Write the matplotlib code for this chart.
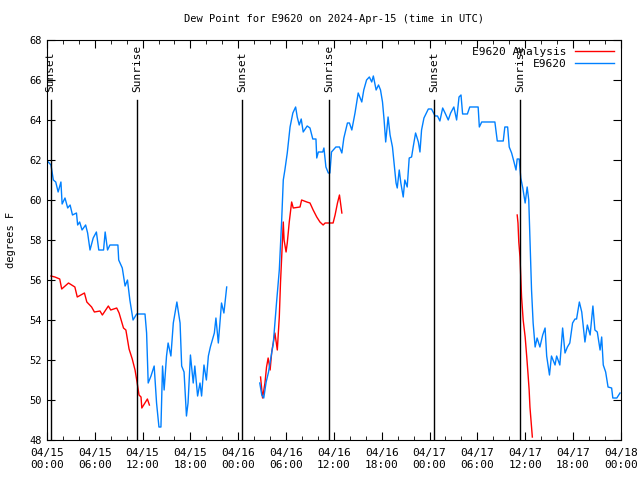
import matplotlib
matplotlib.use("Agg")
import matplotlib.pyplot as plt
import numpy as np

# hours since 2024-04-15 00:00 UTC, dew point in deg F
obs_hours = [0.16, 0.5, 0.8, 1.1, 1.4, 1.75, 1.9, 2.26, 2.6, 2.9, 3.2, 3.7, 3.85, 4.1, 4.4, 4.85,
             5.1, 5.4, 5.8, 6.2, 6.5, 7.1, 7.3, 7.6, 7.9, 8.9, 9.0, 9.45, 9.8, 10.1, 10.4, 10.8,
             11.25, 12.3, 12.5, 12.7, 13.05, 13.45, 13.75, 14.05, 14.3, 14.5, 14.7, 15.0, 15.2,
             15.55, 15.85, 16.3, 16.7, 16.9, 17.2, 17.5, 17.7, 18.0, 18.35, 18.55, 18.9, 19.2,
             19.4, 19.7, 20.0, 20.25, 20.5, 21.0, 21.2, 21.5, 21.9, 22.2, 22.55,
             22.6,
             26.7, 26.95, 27.2, 27.5, 27.8, 28.05, 28.4, 28.6, 28.8, 29.15, 29.45, 29.65, 29.85,
             30.15, 30.5, 30.85, 31.2, 31.4, 31.65, 31.9, 32.15, 32.65, 33.0, 33.35, 33.75, 33.85,
             34.05, 34.6, 34.75, 35.0, 35.3, 35.5, 35.7, 36.25, 36.7, 37.0, 37.25, 37.7, 37.95,
             38.25, 38.65, 39.05, 39.5, 39.75, 40.1, 40.45, 40.75, 40.95, 41.3, 41.6, 41.85, 42.1,
             42.3, 42.5, 42.8, 43.05, 43.35, 43.55, 43.8, 43.95, 44.2, 44.4, 44.7, 44.9, 45.2,
             45.45, 45.75, 45.95, 46.25, 46.6, 46.8, 47.0, 47.3, 47.6, 47.85, 48.25, 48.7, 49.0,
             49.3, 49.65, 49.95, 50.35, 50.65, 51.05, 51.4, 51.7, 51.95, 52.15, 52.75, 53.05,
             54.1, 54.25, 54.55, 56.2, 56.5, 57.25, 57.45, 57.8, 58.0, 58.3, 58.6, 58.85, 59.0,
             59.25, 59.45, 59.7, 60.0, 60.25, 60.45, 60.6, 60.8, 61.0, 61.25, 61.5, 61.85, 62.2,
             62.5, 62.7, 63.05, 63.3, 63.75, 63.95, 64.35, 64.7, 65.0, 65.3, 65.6, 65.95, 66.25,
             66.45, 66.8, 67.1, 67.5, 67.8, 68.15, 68.5, 68.75, 69.05, 69.4, 69.6, 69.8, 70.1,
             70.4, 70.85, 71.0, 71.5, 71.9]
obs_dewpt = [61.9, 61.75, 61.0, 60.9, 60.4, 60.9, 59.8, 60.1, 59.6, 59.75, 59.25, 59.35, 58.75,
             58.9, 58.5, 58.75, 58.35, 57.5, 58.1, 58.4, 57.5, 57.5, 58.4, 57.5, 57.75, 57.75,
             57.0, 56.6, 55.7, 56.0, 55.0, 54.0, 54.3, 54.3, 53.35, 50.85, 51.2, 51.7, 49.85,
             48.65, 48.65, 51.7, 50.5, 52.2, 52.85, 52.2, 53.85, 54.9, 53.85, 51.7, 51.4, 49.2,
             49.85, 52.25, 50.85, 51.7, 50.2, 50.85, 50.2, 51.75, 51.0, 52.2, 52.65, 53.35, 54.1,
             52.85, 54.85, 54.35, 55.65,
             np.nan,
             50.85, 50.25, 50.1, 50.9, 51.4, 52.0, 52.85, 53.85, 54.85, 56.5, 59.0, 61.0, 61.5,
             62.35, 63.65, 64.35, 64.65, 64.15, 63.75, 64.05, 63.4, 63.7, 63.6, 63.05, 63.05, 62.1,
             62.4, 62.4, 62.6, 61.65, 61.35, 61.35, 62.4, 62.65, 62.65, 62.35, 63.1, 63.85, 63.85,
             63.5, 64.35, 65.35, 64.9, 65.5, 66.0, 66.15, 65.9, 66.2, 65.5, 65.75, 65.5, 64.9,
             64.0, 62.9, 64.15, 63.25, 62.65, 61.85, 60.85, 60.6, 61.5, 60.85, 60.15, 61.0, 60.65,
             62.1, 62.15, 62.65, 63.35, 62.9, 62.4, 63.5, 64.1, 64.35, 64.55, 64.55, 64.2, 64.2,
             63.95, 64.6, 64.35, 64.0, 64.35, 64.65, 64.0, 65.15, 65.25, 64.3, 64.3, 64.65,
             64.65, 63.65, 63.9, 63.9, 62.95, 62.95, 63.65, 63.65, 62.65, 62.35, 61.9, 61.5, 62.05,
             62.05, 61.1, 60.6, 59.85, 60.65, 60.0, 58.0, 55.5, 53.85, 52.65, 53.1, 52.65, 53.25,
             53.6, 52.2, 51.25, 52.2, 51.75, 52.2, 51.75, 53.6, 52.35, 52.65, 52.85, 53.85, 54.05,
             54.05, 54.9, 54.4, 52.9, 53.75, 53.25, 54.7, 53.5, 53.4, 52.5, 53.15, 51.75, 51.4,
             50.65, 50.6, 50.1, 50.1, 50.35]

ana_hours = [0.5, 1.0, 1.6, 1.85, 2.7, 3.5, 3.8, 4.7, 5.0, 5.6, 5.95, 6.65, 6.95, 7.7, 8.0, 8.75,
             9.05, 9.6, 9.9, 10.3, 10.7, 11.05, 11.3, 11.55, 11.8, 11.9, 12.6, 12.85,
             13.0,
             26.8, 27.05, 27.35, 27.55, 27.75, 28.0, 28.2, 28.6, 28.9, 29.15, 29.3, 29.45, 29.65,
             29.75, 30.0, 30.15, 30.4, 30.7, 30.9, 31.75, 31.95, 32.6, 33.0, 33.4, 33.85, 34.25,
             34.65, 34.9, 35.3, 35.9, 36.15, 36.45, 36.7, 37.0,
             37.2,
             59.0, 59.1, 59.2, 59.35, 59.45, 59.55, 59.75, 60.0, 60.2, 60.35, 60.5, 60.6, 60.75,
             60.9]
ana_dewpt = [56.2, 56.15, 56.05, 55.55, 55.85, 55.65, 55.15, 55.35, 54.9, 54.65, 54.4, 54.45,
             54.25, 54.7, 54.5, 54.6, 54.35, 53.6, 53.5, 52.55, 52.05, 51.5, 50.9, 50.25, 50.15,
             49.6, 50.05, 49.75,
             np.nan,
             51.15, 50.1, 50.85, 51.65, 52.1, 51.5, 52.4, 53.35, 52.5, 54.15, 55.85, 57.15, 58.9,
             58.0, 57.4, 57.85, 58.9, 59.9, 59.6, 59.65, 60.0, 59.9, 59.85, 59.5, 59.15, 58.9,
             58.75, 58.85, 58.85, 58.85, 59.25, 59.85, 60.25, 59.35,
             np.nan,
             59.25, 58.85, 57.9, 57.15, 56.15, 55.15, 54.0, 53.15, 52.15, 51.35, 50.5, 49.65,
             48.9, 48.15]

sun_hours = [0.45, 11.33, 24.47, 35.42, 48.56, 59.39]
sun_labels = ["Sunset", "Sunrise", "Sunset", "Sunrise", "Sunset", "Sunrise"]

tick_hours = np.arange(0, 73, 6)
tick_days = ["04/15"] * 4 + ["04/16"] * 4 + ["04/17"] * 4 + ["04/18"]
tick_times = ["00:00", "06:00", "12:00", "18:00"] * 3 + ["00:00"]

plt.rcParams['font.family'] = 'DejaVu Sans Mono'
plt.rcParams['font.size'] = 7.5

fig = plt.figure(figsize=(6.4, 4.8), dpi=100)
ax = fig.add_axes([0.0734, 0.0833, 0.8966, 0.8334])

ax.plot(ana_hours, ana_dewpt, color='#ff0000', lw=1, label='E9620 Analysis')
ax.plot(obs_hours, obs_dewpt, color='#0080ff', lw=1, label='E9620')

# sunrise / sunset markers
for h, lab in zip(sun_hours, sun_labels):
    ax.plot([h, h], [48, 65.0], color='black', lw=1)
    ax.text(h, 65.4, lab, rotation=90, ha='center', va='bottom', fontsize=8)

ax.set_xlim(0, 72)
ax.set_ylim(48, 68)
ax.set_xticks(tick_hours)
ax.set_xticklabels([f"{d}\n{t}" for d, t in zip(tick_days, tick_times)], fontsize=8)
ax.set_xticks(np.arange(0, 73, 2), minor=True)
ax.set_yticks(np.arange(48, 69, 2))
ax.tick_params(which='both', direction='in', top=True, right=True)
ax.tick_params(which='major', length=6)
ax.tick_params(which='minor', length=3)
ax.tick_params(axis='x', pad=6)
ax.set_ylabel('degrees F', labelpad=10)
ax.set_title('Dew Point for E9620 on 2024-Apr-15 (time in UTC)', pad=13, fontsize=7.5)
ax.legend(loc='upper right', markerfirst=False, frameon=False, handlelength=3.5,
          borderaxespad=0.2, labelspacing=0.2, fontsize=8)

fig.savefig('out.png', dpi=100)
